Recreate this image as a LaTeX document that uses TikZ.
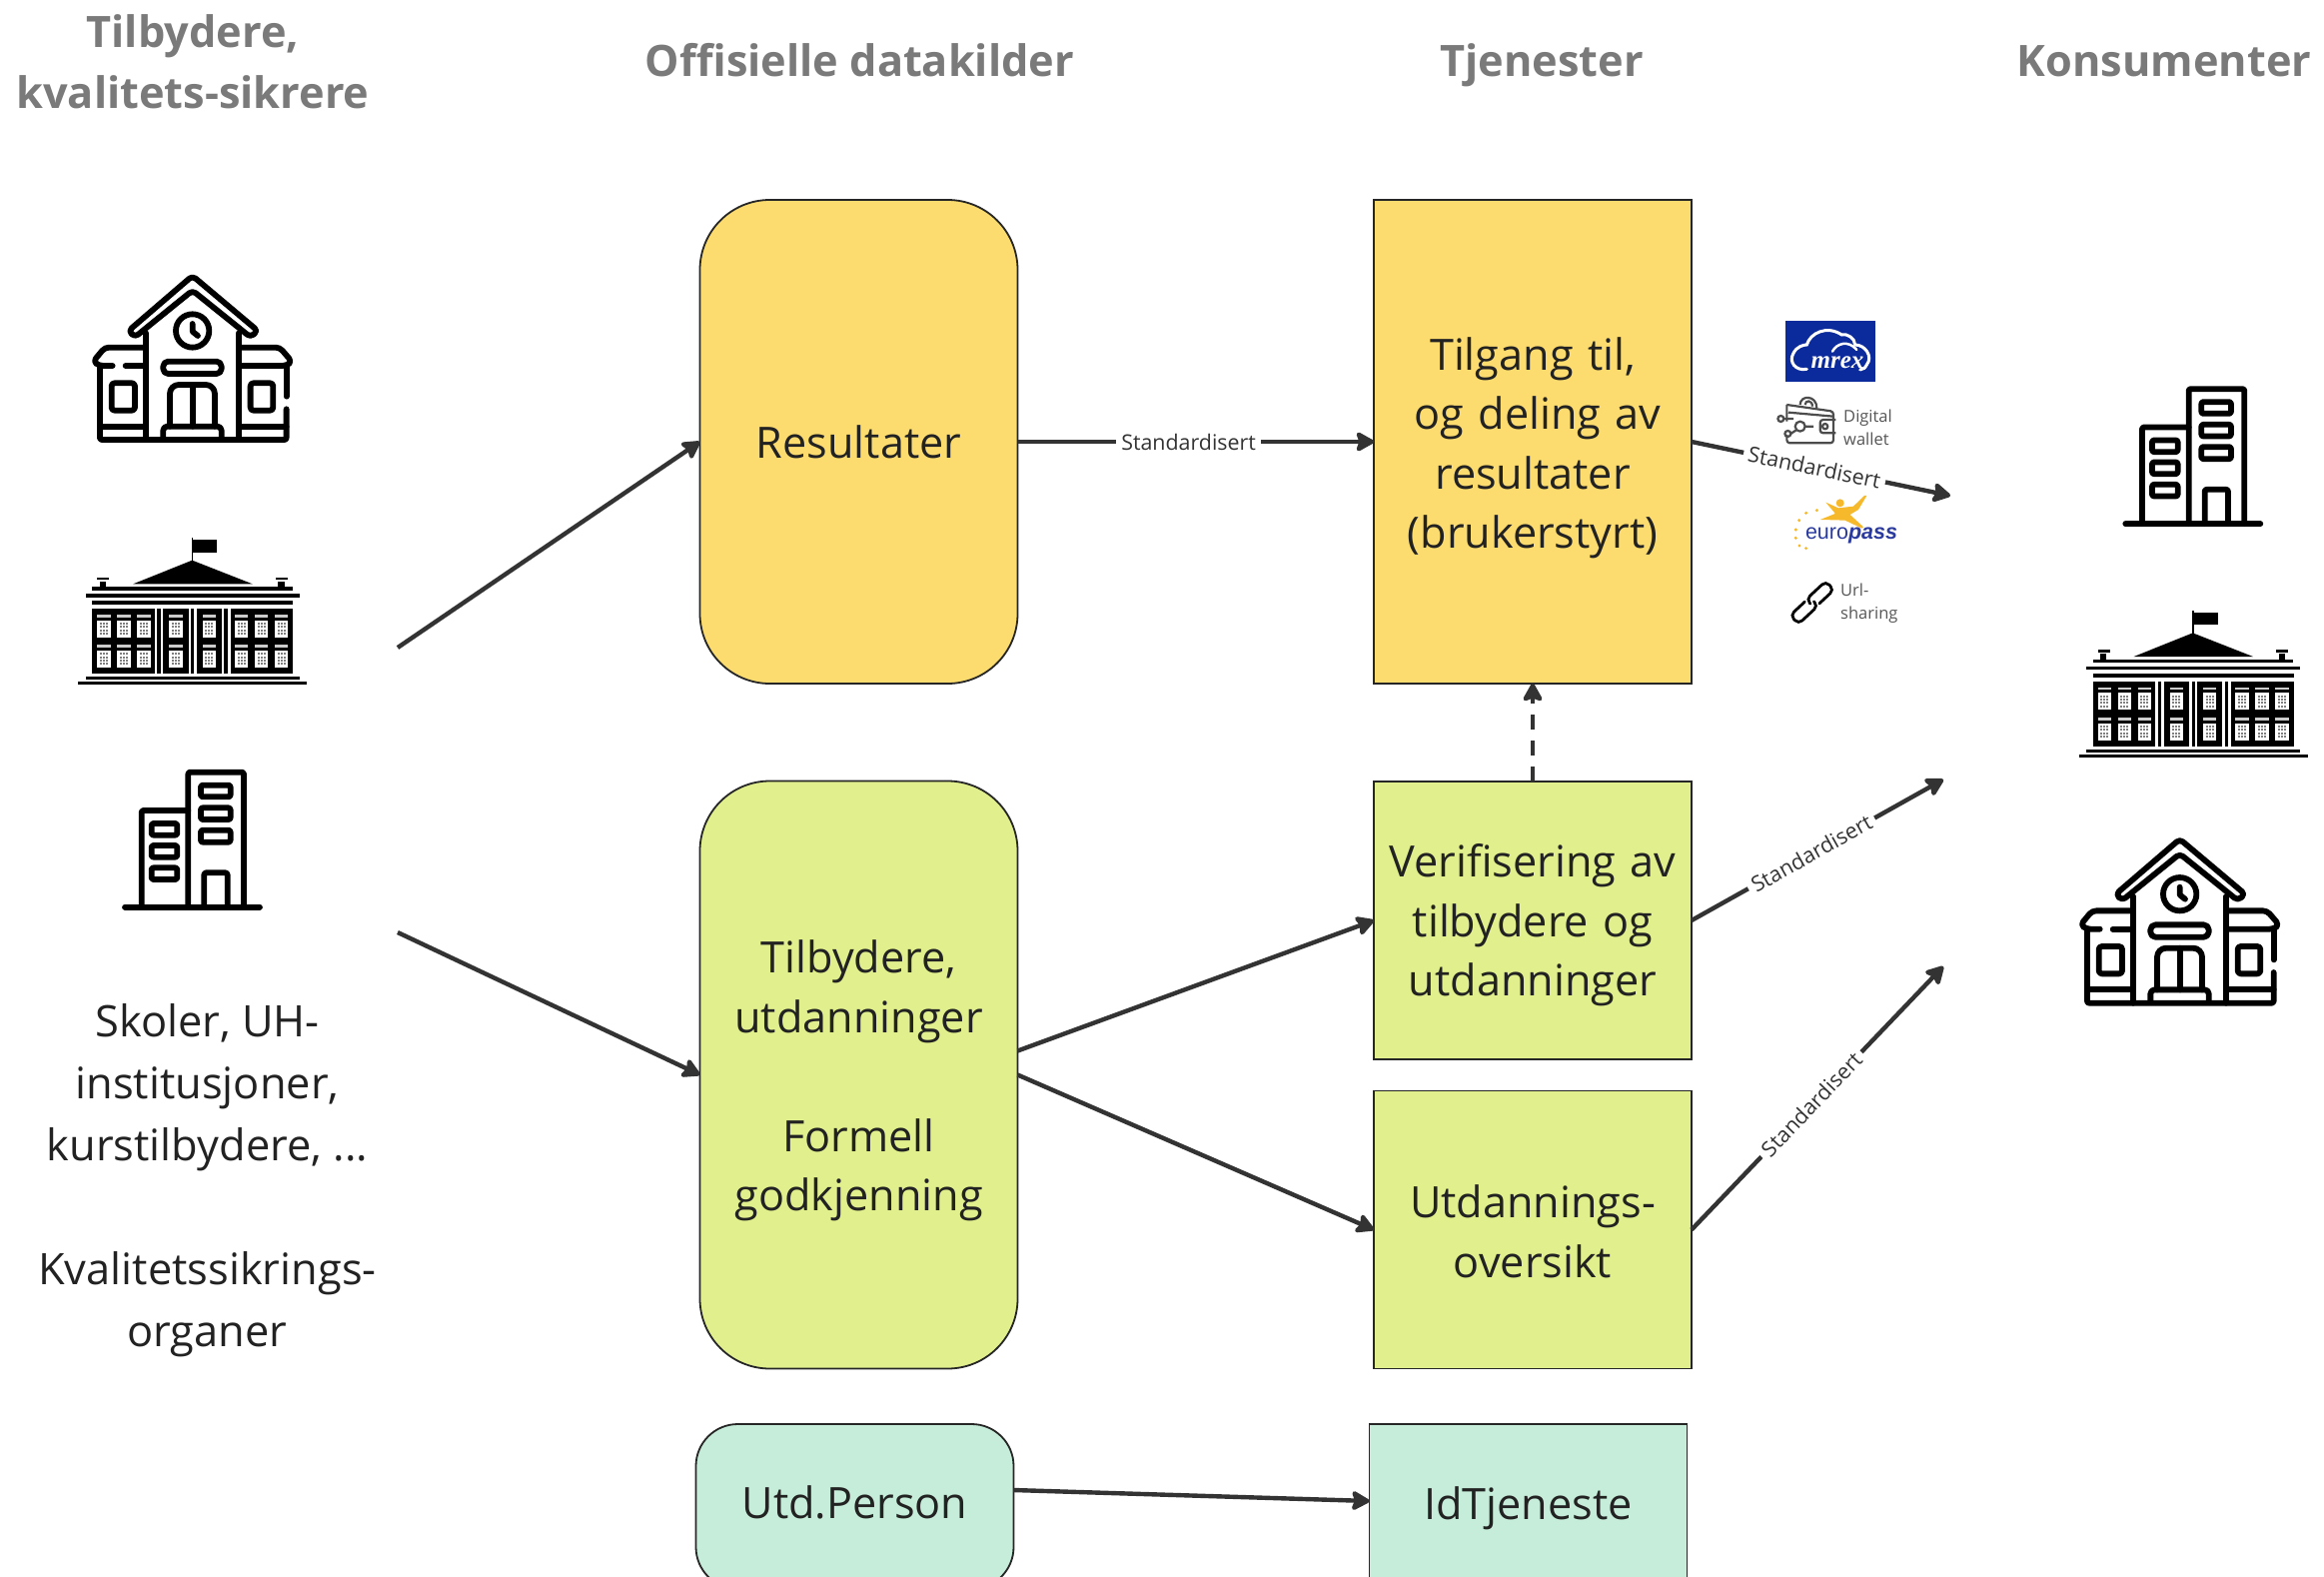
\documentclass[tikz,border=0pt]{standalone}
\usepackage{fontspec}
\setmainfont{Open Sans}
\newfontfamily\logofont{Liberation Sans}
\newfontfamily\mrexfont{Liberation Serif}
\usetikzlibrary{arrows.meta}
\definecolor{boxyellow}{HTML}{FCDC6F}
\definecolor{boxlime}{HTML}{E1EF8C}
\definecolor{boxmint}{HTML}{C6EDD9}
\definecolor{heading}{HTML}{7A7A7A}
\definecolor{bodytext}{HTML}{222222}
\definecolor{arrowdark}{HTML}{333333}
\definecolor{mrexblue}{HTML}{0B2A9B}
\definecolor{epblue}{HTML}{2A3A9E}
\definecolor{epyellow}{HTML}{F6B92B}
\definecolor{smallgrey}{HTML}{555555}
\tikzset{
  x=1pt,y=-1pt,
  boxbase/.style={draw=black!85,line width=1.8pt,outer sep=0pt,inner sep=0pt,text width=300pt,align=center,text=bodytext,
    font=\fontsize{43.2}{59.5}\selectfont},
  stdbox/.style={boxbase,minimum width=#1},
  stdbox/.default=318pt,
  rrbox/.style={boxbase,minimum width=318pt,rounded corners=70pt},
  headtext/.style={align=center,text=heading,font=\fontsize{43.3}{61}\selectfont\bfseries},
  conn/.style={draw=arrowdark,line width=4.4pt,-{Stealth[length=21pt,width=23pt,inset=4pt,round]}},
  lab/.style={fill=white,inner sep=5pt,text=arrowdark,font=\fontsize{21.4}{24}\selectfont},
  smalltxt/.style={align=left,anchor=west,inner sep=0pt,text=smallgrey,font=\fontsize{16.5}{23}\selectfont},
  ink/.style={line width=5.8pt,line cap=round,line join=round,draw=black},
  myschool/.pic={
    \begin{scope}[ink]
      \draw[rounded corners=4pt] (206,243) -- (398,78) -- (594,243) -- (572,262) -- (398,122) -- (225,262) -- cycle;
      \draw (258,250) -- (258,570) (537,250) -- (537,570);
      \draw (398,243) ellipse [x radius=50,y radius=50];
      \draw (398,222) -- (398,245) -- (414,258);
      \draw[rounded corners=5pt] (310,335) rectangle (485,372);
      \draw[rounded corners=9pt] (330,530) -- (330,405) -- (465,405) -- (465,530);
      \draw (398,405) -- (398,530);
      \draw[rounded corners=4pt] (310,568) -- (310,530) -- (485,530) -- (485,568);
      \draw[rounded corners=2pt] (120,350) -- (120,570) -- (680,570) -- (680,478);
      \draw (680,440) -- (680,350);
      \draw (120,530) -- (258,530) (537,530) -- (680,530);
      \draw[rounded corners=4pt] (258,293) -- (135,293) -- (100,335) -- (118,348) -- (158,348);
      \draw (197,348) -- (258,348);
      \draw[rounded corners=4pt] (537,293) -- (660,293) -- (696,335) -- (680,348) -- (537,348);
      \draw[rounded corners=3pt] (155,400) rectangle (225,482);
      \draw[rounded corners=3pt] (572,400) rectangle (640,482);
    \end{scope}
  },
  mygov/.pic={
    \fill (395,865) rectangle (400,935);
    \fill (397,870) rectangle (472,908);
    \fill (220,1003) -- (397,932) -- (578,1003) -- cycle;
    \fill (120,995) rectangle (138,1015);
    \fill (112,983) rectangle (148,990);
    \fill (655,995) rectangle (675,1015);
    \fill (648,983) rectangle (684,990);
    \fill (97,1012) rectangle (698,1022);
    \fill (77,1032) rectangle (720,1043);
    \fill (97,1053) rectangle (700,1066);
    \fill (97,1077) rectangle (285,1272);
    \fill (310,1077) rectangle (386,1272);
    \fill (410,1077) rectangle (486,1272);
    \fill (512,1077) rectangle (700,1272);
    \fill (292,1077) rectangle (302,1272);
    \fill (394,1077) rectangle (403,1272);
    \fill (493,1077) rectangle (503,1272);
    \fill (77,1281) rectangle (720,1290);
    \fill (55,1297) rectangle (742,1305);
    \foreach \wx in {112,172,232,328,428,525,585,645}{
      \foreach \wy in {0,91}{
        \fill[white!80!black] (\wx,1095+\wy) rectangle (\wx+40,1103+\wy);
        \fill[white] (\wx,1112+\wy) rectangle (\wx+40,1163+\wy);
        \foreach \dx in {11,20,29}{
          \foreach \dy in {10,20,30,40}{
            \fill[black!50] (\wx+\dx-3,1112+\wy+\dy-3) rectangle (\wx+\dx+3,1112+\wy+\dy+3);
          }
        }
      }
    }
  },
  myoffice/.pic={
    \begin{scope}[ink]
      \draw (75,503) -- (480,503);
      \draw[rounded corners=2pt] (125,503) -- (125,213) -- (265,213);
      \draw[rounded corners=2pt] (265,503) -- (265,98) -- (432,98) -- (432,503);
      \draw[rounded corners=2pt] (303,137) rectangle (392,172);
      \draw[rounded corners=2pt] (303,205) rectangle (392,240);
      \draw[rounded corners=2pt] (303,272) rectangle (392,308);
      \draw[rounded corners=2pt] (155,252) rectangle (232,287);
      \draw[rounded corners=2pt] (155,318) rectangle (232,353);
      \draw[rounded corners=2pt] (155,385) rectangle (232,420);
      \draw[rounded corners=2pt] (313,503) -- (313,400) -- (383,400) -- (383,503);
    \end{scope}
  },
}
\begin{document}
\begin{tikzpicture}
\useasboundingbox (0,0) rectangle (2326,1577);
\clip (0,0) rectangle (2326,1577);

% headings
\node[headtext] (h1) at (193,61.5) {Tilbydere,\\kvalitets-sikrere};
\node[headtext,anchor=base] (h2) at (860.5,76.5) {Offisielle datakilder};
\node[headtext,anchor=base] (h3) at (1543,76.5) {Tjenester};
\node[headtext,anchor=base] (h4) at (2166,76.5) {Konsumenter};

% boxes
\node[rrbox,fill=boxyellow,minimum height=484pt,text height=32pt,text depth=0pt] (res) at (859.5,442) {Resultater};
\node[stdbox,fill=boxyellow,minimum height=484pt,text height=33pt,text depth=176.5pt] (tilg) at (1534,442) {Tilgang til,\\\hspace*{10pt}og deling av\\resultater\\(brukerstyrt)};
\node[rrbox,fill=boxlime,minimum height=588pt,text height=33pt,text depth=237pt] (tilb) at (859.5,1075.5) {Tilbydere,\\utdanninger\\[59.5pt]Formell\\godkjenning};
\node[stdbox,fill=boxlime,minimum height=278pt,text height=33pt,text depth=120pt] (verif) at (1534,921) {Verifisering av\\tilbydere og\\utdanninger};
\node[stdbox,fill=boxlime,minimum height=278pt,text height=33pt,text depth=57pt] (utdo) at (1534,1230.5) {Utdannings-\\oversikt};
\node[boxbase,fill=boxmint,minimum width=318pt,rounded corners=42pt,minimum height=165pt,text height=24pt,text depth=0pt] (utdp) at (855.5,1507.5) {Utd.Person};
\node[boxbase,fill=boxmint,minimum width=318pt,minimum height=165pt,text height=35pt,text depth=10pt] (idt) at (1529.5,1507.5) {IdTjeneste};

% left caption
\node[align=center,text=bodytext,font=\fontsize{43.4}{62}\selectfont] (cap) at (207.5,1181) {Skoler, UH-\\institusjoner,\\kurstilbydere, ...\\[62pt]Kvalitetssikrings-\\organer};

% icons
\pic[shift={(60,250)},xscale=0.3333,yscale=0.3333] {myschool};
\pic[shift={(60,250)},xscale=0.3333,yscale=0.3333] {mygov};
\pic[shift={(100,740)},xscale=0.3333,yscale=0.3333] {myoffice};
\pic[shift={(2102.3,356.5)},xscale=0.3333,yscale=0.3333] {myoffice};
\pic[shift={(2062.3,322.7)},xscale=0.3333,yscale=0.3333] {mygov};
\pic[shift={(2049,813.7)},xscale=0.3333,yscale=0.3333] {myschool};

% connectors
\coordinate (src1) at (398,648);
\coordinate (src2) at (398,933);
\coordinate (out1) at (1952,496);
\coordinate (out2) at (1945,780);
\coordinate (out3) at (1945,967);
\draw[conn] (src1) -- (res.west);
\draw[conn] (src2) -- (tilb.west);
\draw[conn] (res.east) -- node[lab,pos=.48] (l1) {Standardisert} (tilg.west);
\draw[conn] (tilg.east) -- node[lab,pos=.475,sloped] (l2) {Standardisert} (out1);
\draw[conn] (verif.east) -- node[lab,pos=.476,sloped] (l3) {Standardisert} (out2);
\draw[conn] (utdo.east) -- node[lab,pos=.476,sloped] (l4) {Standardisert} (out3);
\draw[conn,dashed,dash pattern=on 15pt off 11pt] (verif.north) -- (tilg.south);
\draw[conn] ([yshift=24pt]tilb.east) -- (verif.west);
\draw[conn] (tilb.east) -- (utdo.west);
\draw[conn] ([yshift=16.5pt]utdp.east) -- ([yshift=5.5pt]idt.west);

% mrex logo
\fill[mrexblue] (1787,321) rectangle (1877,382);
\begin{scope}[shift={(1740,290)},xscale=0.3333,yscale=0.3333]
  \draw[white,line width=3pt,line cap=round]
    (205,238) .. controls (170,245) and (150,215) .. (165,190)
    .. controls (175,170) and (195,165) .. (205,165)
    .. controls (215,130) and (265,105) .. (310,135)
    .. controls (325,130) and (350,145) .. (350,165)
    .. controls (380,165) and (405,200) .. (385,225)
    .. controls (380,235) and (375,238) .. (365,240);
  \draw[white,line width=2.5pt,line cap=round] (282,185) .. controls (295,160) and (330,150) .. (355,180);
\end{scope}
\node[inner sep=0pt,text=white,font=\mrexfont\fontsize{25}{25}\selectfont\bfseries\itshape] (mrex) at (1839,363) {mrex};

% wallet icon
\begin{scope}[shift={(1740,290)},xscale=0.3333,yscale=0.3333,draw=black!70,line width=2.2pt,line join=round]
  \draw[rounded corners=3pt] (145,345) -- (285,365) -- (285,460) -- (145,460) -- (145,435);
  \draw (145,395) -- (145,345) (150,368) -- (285,380);
  \draw (185,345) .. controls (185,315) and (235,315) .. (235,355);
  \draw (200,345) .. controls (200,330) and (222,330) .. (222,350);
  \draw (127,387) circle [radius=9] (148,432) circle [radius=9];
  \draw (136,387) -- (165,387) (157,432) -- (175,420);
  \draw (185,410) circle [radius=15] (200,410) -- (225,410);
  \draw[rounded corners=3pt] (292,390) -- (245,390) -- (245,430) -- (292,430);
  \draw (260,410) circle [radius=8];
\end{scope}
\node[smalltxt] (wt) at (1845,427.5) {Digital\\wallet};

% europass logo
\begin{scope}[shift={(1740,290)},xscale=0.3333,yscale=0.3333]
  \fill[epyellow] (262,638) -- (300,655) -- (345,650) -- (378,618) -- (385,618) -- (360,660) -- (335,675) -- (375,712) -- (370,716) -- (320,692) -- (245,690) -- (290,672) -- (285,665) -- cycle;
  \fill[epyellow] (305,640) circle [radius=12];
  \foreach \dotx/\doty in {235/662,203/670,182/692,172/720,172/745,183/768,203/776}{
    \fill[epyellow] (\dotx,\doty) circle [radius=5];
  }
\end{scope}
\node[inner sep=0pt,text=epblue,font=\logofont\fontsize{21.5}{22}\selectfont] (ep) at (1853,536) {euro{\bfseries\itshape pass}};

% chain icon
\begin{scope}[shift={(1740,290)},xscale=0.3333,yscale=0.3333,draw=black,line width=2.8pt,line cap=round]
  \draw[rotate around={43:(245,915)},rounded corners=5pt] (225,933) -- (285,933) -- (285,897) -- (205,897) -- (205,915);
  \draw[rotate around={43:(197,963)},rounded corners=5pt] (217,945) -- (157,945) -- (157,981) -- (237,981) -- (237,963);
\end{scope}
\node[smalltxt] (ut) at (1842,603.5) {Url-\\sharing};
\end{tikzpicture}
\end{document}
